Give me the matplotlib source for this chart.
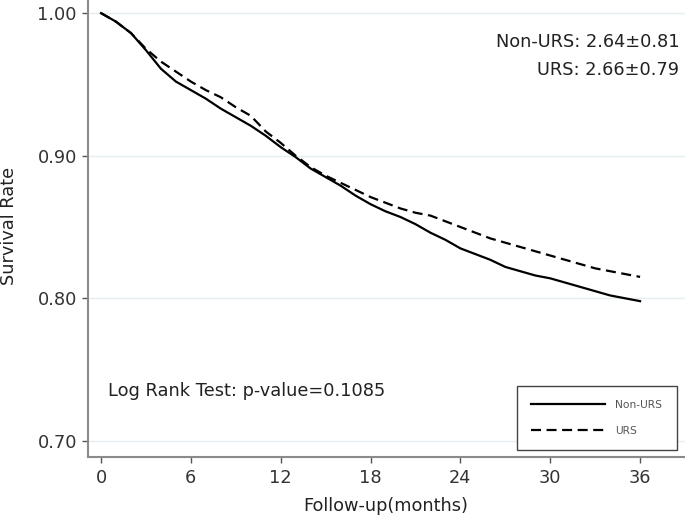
import matplotlib
matplotlib.use('Agg')
import matplotlib.pyplot as plt

plt.rcParams['font.family'] = ['DejaVu Sans']

# follow-up months and Kaplan-Meier survival
meses = [0, 1, 2, 3, 4, 5, 6, 7, 8, 9, 10, 11, 12, 13, 14, 15, 16, 17, 18,
         19, 20, 21, 22, 23, 24, 25, 26, 27, 28, 29, 30, 31, 32, 33, 34, 35, 36]

non_urs = [1.000, 0.994, 0.986, 0.974, 0.961, 0.952, 0.946, 0.940, 0.933, 0.927,
           0.921, 0.914, 0.906, 0.899, 0.891, 0.885, 0.879, 0.872, 0.866, 0.861,
           0.857, 0.852, 0.846, 0.841, 0.835, 0.831, 0.827, 0.822, 0.819, 0.816,
           0.814, 0.811, 0.808, 0.805, 0.802, 0.800, 0.798]

urs = [1.000, 0.994, 0.986, 0.975, 0.966, 0.959, 0.952, 0.946, 0.941, 0.934,
       0.928, 0.917, 0.909, 0.900, 0.892, 0.886, 0.881, 0.876, 0.871, 0.867,
       0.863, 0.860, 0.858, 0.854, 0.850, 0.846, 0.842, 0.839, 0.836, 0.833,
       0.830, 0.827, 0.824, 0.821, 0.819, 0.817, 0.815]

xticks = [0, 6, 12, 18, 24, 30, 36]
yticks = [0.70, 0.80, 0.90, 1.00]
ytick_labels = ['0.70', '0.80', '0.90', '1.00']

fs = 12.8

fig = plt.figure(figsize=(6.85, 5.21), dpi=100)
ax = fig.add_axes([88 / 685, 1 - 457 / 521, 597 / 685, 457 / 521])

for yv in yticks:
    ax.axhline(yv, color='#e4eef0', lw=1, zorder=0)

ax.plot(meses, non_urs, color='black', lw=1.6, label='Non-URS')
ax.plot(meses, urs, color='black', lw=1.6, linestyle=(0, (4.5, 2.5)), label='URS')

ax.set_xlim(-0.87, 39.0)
ax.set_ylim(0.6887, 1.0092)
ax.set_xticks(xticks)
ax.set_yticks(yticks)
ax.set_yticklabels(ytick_labels)

for s in ['top', 'right']:
    ax.spines[s].set_visible(False)
for s in ['left', 'bottom']:
    ax.spines[s].set_color('#8a8a8a')
    ax.spines[s].set_linewidth(1.5)

ax.tick_params(axis='both', colors='#555555', labelcolor='#333333',
               labelsize=fs, length=4.5, width=1)
ax.tick_params(axis='x', pad=4)
ax.tick_params(axis='y', pad=3.5)

ax.set_xlabel('Follow-up(months)', fontsize=fs, color='#222222', va='center')
ax.xaxis.set_label_coords(0.499, -0.107)
ax.set_ylabel('Survival Rate', fontsize=fs, color='#222222', va='center')
ax.yaxis.set_label_coords(-0.132, 0.505)

ax.text(0.47, 0.7352, 'Log Rank Test: p-value=0.1085', fontsize=fs,
        color='#222222', ha='left', va='center')
ax.text(38.61, 0.980, 'Non-URS: 2.64\u00b10.81', fontsize=fs,
        color='#222222', ha='right', va='center')
ax.text(38.61, 0.960, 'URS: 2.66\u00b10.79', fontsize=fs,
        color='#222222', ha='right', va='center')

leg = ax.legend(loc='lower left', bbox_to_anchor=(0.7186, 0.0153, 0.268, 0.145),
                mode='expand', fontsize=7.7, handlelength=6.9, labelspacing=1.55,
                borderpad=1.3, borderaxespad=0, handletextpad=1.0,
                fancybox=False, framealpha=1,
                edgecolor='#444444', labelcolor='#555555')
leg.get_frame().set_linewidth(1)

fig.savefig('out.png', dpi=100)
